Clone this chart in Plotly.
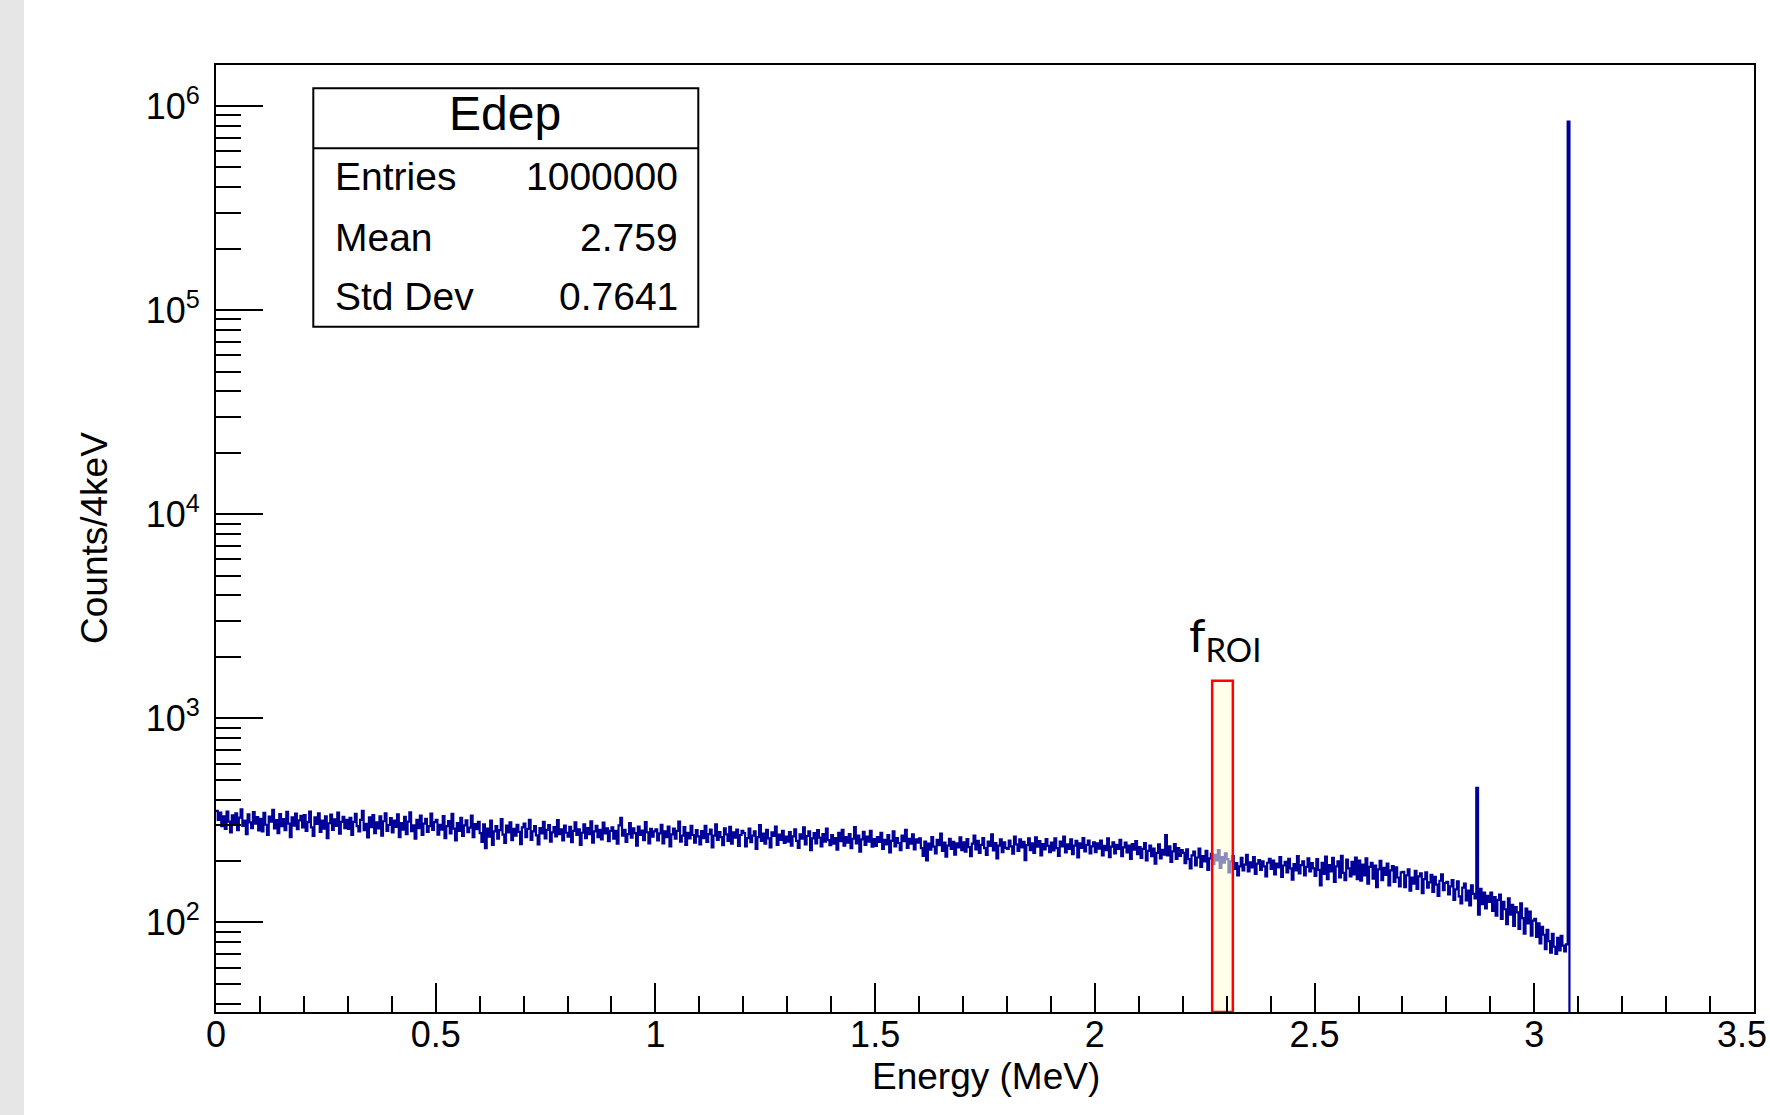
import plotly.graph_objects as go

# ---------------- data ----------------
BIN_WIDTH_MEV = 0.004          # 4 keV bins
N_BINS = 875                   # 0 .. 3.5 MeV

# continuum counts per 4 keV bin, 0 .. 3.076 MeV (rows of 0.1 MeV = 25 bins)
continuum_counts = [
    352, 318, 345, 296, 331, 287, 349, 312, 276, 335, 301, 342, 283, 326, 358, 297, 315, 271, 338, 309, 290, 347, 305, 328, 282,
    322, 279, 344, 301, 268, 330, 312, 356, 289, 317, 274, 339, 296, 321, 283, 348, 305, 262, 327, 298, 341, 286, 316, 333, 292,
    336, 281, 310, 349, 292, 265, 327, 304, 342, 278, 315, 288, 331, 259, 306, 337, 284, 320, 297, 345, 272, 311, 329, 290, 318,
    287, 325, 268, 311, 340, 296, 279, 318, 352, 283, 304, 261, 327, 293, 336, 274, 309, 289, 331, 266, 313, 342, 281, 300, 324,
    276, 315, 294, 338, 262, 307, 285, 329, 271, 312, 346, 280, 299, 257, 318, 290, 334, 268, 305, 322, 278, 296, 341, 284, 310,
    318, 269, 301, 285, 332, 259, 296, 314, 273, 340, 288, 252, 307, 281, 325, 265, 299, 316, 277, 291, 334, 262, 303, 286, 311,
    274, 248, 302, 231, 288, 263, 315, 240, 279, 296, 257, 283, 321, 269, 245, 298, 276, 309, 253, 287, 266, 301, 278, 242, 292,
    305, 262, 287, 318, 254, 279, 296, 267, 241, 290, 273, 311, 258, 284, 300, 249, 276, 293, 264, 317, 271, 286, 252, 298, 275,
    263, 294, 247, 281, 309, 268, 286, 240, 275, 302, 259, 290, 271, 313, 246, 279, 297, 262, 284, 255, 308, 273, 289, 250, 281,
    292, 257, 281, 243, 299, 325, 266, 284, 248, 271, 307, 260, 289, 274, 238, 295, 268, 282, 253, 310, 276, 244, 287, 263, 279,
    286, 252, 273, 301, 244, 279, 262, 295, 236, 270, 288, 257, 281, 312, 249, 266, 293, 240, 275, 258, 297, 268, 246, 283, 264,
    241, 280, 259, 297, 248, 271, 285, 233, 266, 302, 254, 277, 262, 239, 289, 270, 251, 294, 243, 276, 260, 285, 237, 268, 281,
    274, 236, 259, 288, 247, 266, 279, 229, 262, 300, 251, 272, 243, 284, 258, 233, 276, 265, 295, 240, 269, 254, 281, 245, 263,
    249, 277, 238, 264, 286, 251, 232, 270, 257, 292, 241, 265, 279, 226, 258, 274, 244, 283, 260, 236, 271, 249, 288, 253, 239,
    268, 243, 259, 227, 275, 250, 284, 238, 262, 246, 271, 231, 257, 293, 244, 266, 222, 255, 278, 240, 263, 249, 281, 235, 256,
    237, 262, 248, 275, 229, 254, 241, 268, 220, 251, 279, 236, 259, 245, 226, 266, 250, 284, 232, 257, 243, 270, 228, 255, 246,
    258, 231, 212, 249, 201, 243, 227, 262, 235, 218, 254, 239, 272, 224, 246, 210, 238, 257, 229, 248, 215, 244, 233, 261, 226,
    247, 222, 256, 234, 211, 243, 266, 228, 251, 219, 240, 259, 231, 214, 249, 237, 270, 225, 245, 206, 238, 255, 221, 247, 232,
    229, 252, 236, 217, 263, 241, 224, 255, 233, 248, 202, 239, 258, 226, 244, 219, 261, 235, 250, 213, 242, 228, 256, 237, 221,
    246, 225, 258, 231, 212, 249, 236, 263, 220, 241, 229, 255, 216, 238, 251, 208, 244, 232, 259, 223, 240, 252, 218, 236, 247,
    221, 244, 230, 252, 213, 237, 226, 258, 209, 235, 247, 218, 240, 229, 254, 211, 233, 246, 220, 238, 205, 242, 227, 250, 216,
    234, 207, 229, 245, 201, 224, 238, 211, 230, 194, 219, 241, 206, 227, 215, 268, 213, 236, 198, 223, 242, 205, 231, 212, 226,
    219, 195, 228, 204, 184, 213, 222, 190, 208, 230, 187, 211, 199, 224, 181, 206, 217, 193, 214, 201, 226, 185, 209, 196, 218,
    204, 176, 199, 211, 183, 195, 170, 188, 207, 180, 192, 214, 178, 197, 186, 209, 173, 194, 202, 181, 199, 188, 168, 196, 205,
    183, 201, 172, 194, 186, 209, 167, 190, 198, 176, 205, 184, 162, 193, 180, 211, 174, 191, 199, 170, 187, 206, 178, 195, 184,
    169, 204, 181, 152, 196, 173, 210, 163, 191, 178, 207, 158, 188, 199, 166, 212, 175, 161, 203, 184, 168, 198, 172, 208, 163,
    201, 160, 192, 170, 206, 155, 187, 196, 164, 190, 149, 182, 200, 161, 185, 171, 194, 152, 180, 189, 158, 186, 166, 150, 176,
    177, 149, 170, 182, 143, 166, 155, 179, 146, 168, 174, 139, 163, 176, 148, 157, 171, 141, 167, 153, 135, 160, 172, 144, 156,
    158, 137, 150, 161, 129, 145, 159, 134, 124, 148, 155, 128, 143, 121, 152, 138, 131, 456, 109, 146, 123, 140, 117, 135, 126,
    140, 114, 133, 108, 129, 137, 104, 126, 116, 98, 131, 109, 122, 96, 119, 112, 93, 124, 105, 88, 117, 99, 113, 86, 102,
    104, 85, 99, 79, 95, 87, 74, 92, 81, 71, 88, 76, 70, 84, 73, 86, 77, 72, 78,
]
peak_counts = 840000           # full-energy line bin (~3.076-3.080 MeV)

stats_title = "Edep"
stats_labels = ["Entries", "Mean", "Std Dev"]
stats_values = ["1000000", "2.759", "0.7641"]

roi_energy = [2.267, 2.314]    # MeV
roi_top_counts = 1527
roi_label = "f<sub>ROI</sub>"

x_title = "Energy (MeV)"
y_title = "Counts/4keV"
x_major_ticks = [0, 0.5, 1, 1.5, 2, 2.5, 3]
x_major_text = ["0", "0.5", "1", "1.5", "2", "2.5", "3"]
x_edge_label = "3.5"           # last label, cut by the canvas edge in the original
y_major_ticks = [1e2, 1e3, 1e4, 1e5, 1e6]
y_major_text = ["10<sup>2</sup>", "10<sup>3</sup>", "10<sup>4</sup>", "10<sup>5</sup>", "10<sup>6</sup>"]
Y_LOG_RANGE = [1.561, 6.201]
X_RANGE = [0, 3.5]

# ---------------- build histogram steps ----------------
counts = continuum_counts + [peak_counts]
counts = counts + [0] * (N_BINS - len(counts))
LOG_FLOOR = 1e-3  # empty bins drawn below the visible range (log axis)
bin_left = [i * BIN_WIDTH_MEV for i in range(N_BINS)]
x_step = bin_left + [N_BINS * BIN_WIDTH_MEV]
y_draw = [c if c > 0 else LOG_FLOOR for c in counts]
y_step = y_draw + [y_draw[-1]]

LINE_COLOR = "#000099"
FONT = "Liberation Sans, Arial, sans-serif"

fig = go.Figure()
fig.add_trace(go.Scatter(
    x=x_step, y=y_step, mode="lines", line=dict(color=LINE_COLOR, width=2.2, shape="hv"),
    showlegend=False, hoverinfo="skip"))

y_axis_min = 10 ** Y_LOG_RANGE[0]
fig.add_trace(go.Scatter(
    x=[roi_energy[0], roi_energy[1], roi_energy[1], roi_energy[0], roi_energy[0]],
    y=[y_axis_min, y_axis_min, roi_top_counts, roi_top_counts, y_axis_min],
    mode="lines", fill="toself", fillcolor="rgba(255,255,215,0.55)",
    line=dict(color="#ff0000", width=2.5), showlegend=False, hoverinfo="skip"))

# ---------------- layout ----------------
PL, PR, PT, PB = 216, 1754, 65, 1012
W, H = 1770, 1115


def px(x):
    return (x - PL) / (PR - PL)


def py(y):
    return (PB - y) / (PB - PT)


minor_y = [k * 10 ** n for n in range(1, 7) for k in range(2, 10)]

fig.update_layout(
    width=W, height=H,
    margin=dict(l=PL, r=W - PR, t=PT, b=H - PB, pad=0),
    paper_bgcolor="white", plot_bgcolor="white",
    font=dict(family=FONT, color="black"),
    xaxis=dict(
        range=X_RANGE, showgrid=False, zeroline=False,
        showline=True, linecolor="black", linewidth=2, mirror=True,
        ticks="inside", ticklen=29, tickwidth=2, tickcolor="black",
        tickmode="array", tickvals=x_major_ticks, ticktext=x_major_text,
        tickfont=dict(size=36, family=FONT),
        ticklabelstandoff=-10,
        minor=dict(dtick=0.1, tick0=0, ticks="inside", ticklen=16, tickwidth=2, tickcolor="black"),
    ),
    yaxis=dict(
        type="log", range=Y_LOG_RANGE, showgrid=False, zeroline=False,
        showline=True, linecolor="black", linewidth=2, mirror=True,
        ticks="inside", ticklen=47, tickwidth=2, tickcolor="black",
        tickmode="array", tickvals=y_major_ticks, ticktext=y_major_text,
        tickfont=dict(size=36, family=FONT), ticklabelstandoff=7,
        minor=dict(tickmode="array", tickvals=minor_y, ticks="inside", ticklen=25,
                   tickwidth=2, tickcolor="black"),
    ),
)

shapes = [
    # gray strip at the left edge of the canvas
    dict(type="rect", xref="paper", yref="paper", x0=px(0), x1=px(24), y0=py(H), y1=py(0),
         fillcolor="#e6e6e6", line=dict(width=0), layer="below"),
    # stats box
    dict(type="rect", xref="paper", yref="paper", x0=px(313.3), x1=px(698.3), y0=py(326.7), y1=py(88.3),
         fillcolor="white", line=dict(color="black", width=2), layer="above"),
    dict(type="line", xref="paper", yref="paper", x0=px(313.3), x1=px(698.3), y0=py(148.3), y1=py(148.3),
         line=dict(color="black", width=2), layer="above"),
]
fig.update_layout(shapes=shapes)

ann = []
ann.append(dict(text=stats_title, xref="paper", yref="paper", x=px(505), y=py(114),
                xanchor="center", yanchor="middle", showarrow=False, font=dict(size=48, family=FONT)))
row_mid = [176.7, 237, 296.5]
for lab, val, ym in zip(stats_labels, stats_values, row_mid):
    ann.append(dict(text=lab, xref="paper", yref="paper", x=px(333.3), y=py(ym),
                    xanchor="left", yanchor="middle", showarrow=False, font=dict(size=39, family=FONT)))
    ann.append(dict(text=val, xref="paper", yref="paper", x=px(680), y=py(ym),
                    xanchor="right", yanchor="middle", showarrow=False, font=dict(size=39, family=FONT)))
ann.append(dict(text=x_title, xref="paper", yref="paper", x=px(986), y=py(1076.5),
                xanchor="center", yanchor="middle", showarrow=False, font=dict(size=37, family=FONT)))
ann.append(dict(text=y_title, xref="paper", yref="paper", x=px(94), y=py(538),
                xanchor="center", yanchor="middle", textangle=-90, showarrow=False,
                font=dict(size=37, family=FONT)))
ann.append(dict(text=roi_label, xref="x", yref="paper", x=sum(roi_energy) / 2 + 0.005, y=py(637),
                xanchor="center", yanchor="middle", showarrow=False,
                font=dict(size=47, family="Lato, Carlito, Calibri, sans-serif")))
ann.append(dict(text=x_edge_label, xref="paper", yref="paper", x=px(1769), y=py(1034),
                xanchor="right", yanchor="middle", showarrow=False, font=dict(size=36, family=FONT)))
fig.update_layout(annotations=ann)

fig.write_html("out.html")
